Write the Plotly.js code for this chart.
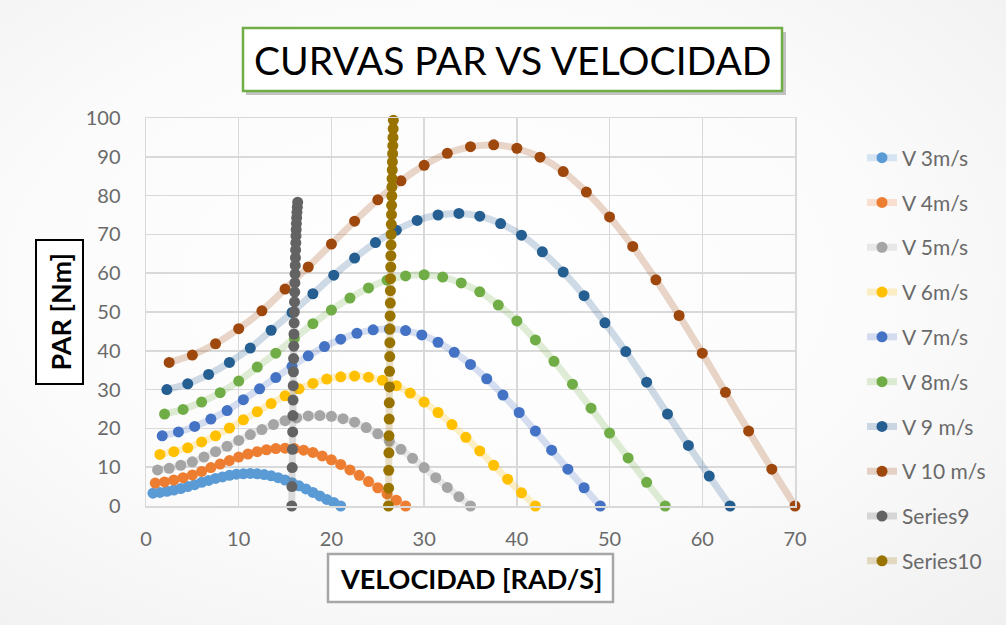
<!DOCTYPE html>
<html>
<head>
<meta charset="utf-8">
<script src="https://cdn.plot.ly/plotly-3.0.1.min.js"></script>
<style>
html,body{margin:0;padding:0;}
body{width:1006px;height:625px;background:radial-gradient(ellipse at 45% 45%, #ffffff 0%, #fbfbfb 55%, #f0f0f0 100%);}
#chart{width:1006px;height:625px;}
</style>
</head>
<body>
<div id="chart"></div>
<script>
// Series names
const seriesNames = ["V 3m/s","V 4m/s","V 5m/s","V 6m/s","V 7m/s","V 8m/s","V 9 m/s","V 10 m/s","Series9","Series10"];

// Speed values (rad/s) for each wind speed curve
const xV3 = [0.75,1.5,2.25,3,3.75,4.5,5.25,6,6.75,7.5,8.25,9,9.75,10.5,11.25,12,12.75,13.5,14.25,15,15.75,16.5,17.25,18,18.75,19.5,20.25,21];
const xV4 = [1,2,3,4,5,6,7,8,9,10,11,12,13,14,15,16,17,18,19,20,21,22,23,24,25,26,27,28];
const xV5 = [1.25,2.5,3.75,5,6.25,7.5,8.75,10,11.25,12.5,13.75,15,16.25,17.5,18.75,20,21.25,22.5,23.75,25,26.25,27.5,28.75,30,31.25,32.5,33.75,35];
const xV6 = [1.5,3,4.5,6,7.5,9,10.5,12,13.5,15,16.5,18,19.5,21,22.5,24,25.5,27,28.5,30,31.5,33,34.5,36,37.5,39,40.5,42];
const xV7 = [1.75,3.5,5.25,7,8.75,10.5,12.25,14,15.75,17.5,19.25,21,22.75,24.5,26.25,28,29.75,31.5,33.25,35,36.75,38.5,40.25,42,43.75,45.5,47.25,49];
const xV8 = [2,4,6,8,10,12,14,16,18,20,22,24,26,28,30,32,34,36,38,40,42,44,46,48,50,52,54,56];
const xV9 = [2.25,4.5,6.75,9,11.25,13.5,15.75,18,20.25,22.5,24.75,27,29.25,31.5,33.75,36,38.25,40.5,42.75,45,47.25,49.5,51.75,54,56.25,58.5,60.75,63];
const xV10 = [2.5,5,7.5,10,12.5,15,17.5,20,22.5,25,27.5,30,32.5,35,37.5,40,42.5,45,47.5,50,52.5,55,57.5,60,62.5,65,67.5,70];
const xS9 = [15.72,15.74,15.77,15.79,15.82,15.84,15.86,15.88,15.90,15.92,15.94,15.96,15.98,16.00,16.02,16.04,16.06,16.08,16.10,16.12,16.14,16.16,16.18,16.20,16.22,16.25,16.28,16.32,16.36];
const xS10 = [26.15,26.17,26.18,26.20,26.21,26.23,26.24,26.26,26.27,26.29,26.30,26.32,26.33,26.35,26.36,26.38,26.40,26.41,26.43,26.44,26.46,26.48,26.49,26.51,26.52,26.54,26.56,26.58,26.60,26.62,26.64,26.66,26.68];

// Torque values (Nm)
const yV3 = [3.3,3.5,3.8,4.1,4.5,5.0,5.5,6.1,6.6,7.1,7.5,7.9,8.2,8.3,8.4,8.3,8.1,7.8,7.3,6.7,6.0,5.2,4.4,3.5,2.6,1.7,0.9,0];
const yV4 = [5.9,6.2,6.7,7.3,8.0,8.9,9.9,10.8,11.7,12.6,13.4,14.0,14.5,14.8,14.9,14.8,14.4,13.8,12.9,11.9,10.7,9.3,7.9,6.3,4.7,3.1,1.5,0];
const yV5 = [9.3,9.7,10.5,11.4,12.6,14.0,15.4,16.9,18.4,19.7,21.0,22.0,22.7,23.2,23.3,23.1,22.5,21.6,20.2,18.6,16.7,14.6,12.3,9.9,7.3,4.8,2.4,0];
const yV6 = [13.3,14.0,15.0,16.5,18.1,20.1,22.2,24.3,26.4,28.4,30.2,31.6,32.7,33.3,33.5,33.2,32.4,31.0,29.1,26.8,24.1,21.0,17.7,14.2,10.5,6.9,3.4,0];
const yV7 = [18.1,19.1,20.5,22.4,24.6,27.4,30.2,33.1,36.0,38.7,41.1,43.0,44.5,45.4,45.6,45.2,44.1,42.2,39.6,36.5,32.8,28.6,24.1,19.3,14.4,9.5,4.7,0];
const yV8 = [23.7,24.9,26.8,29.2,32.2,35.8,39.4,43.2,47.0,50.5,53.6,56.2,58.2,59.3,59.6,59.0,57.5,55.2,51.8,47.7,42.8,37.3,31.4,25.2,18.8,12.4,6.1,0];
const yV9 = [30.0,31.5,33.9,37.0,40.7,45.3,49.9,54.7,59.5,63.9,67.9,71.1,73.6,75.0,75.4,74.7,72.8,69.8,65.5,60.3,54.2,47.2,39.8,31.9,23.7,15.6,7.7,0];
const yV10 = [37.0,38.9,41.8,45.7,50.3,55.9,61.6,67.5,73.4,78.9,83.8,87.8,90.9,92.6,93.1,92.2,89.9,86.2,80.9,74.5,66.9,58.3,49.1,39.4,29.3,19.3,9.5,0];
const yS9 = [0,5.0,9.9,14.6,19.1,23.3,27.3,31.0,34.6,38.0,41.2,44.3,47.2,50.0,52.6,55.1,57.5,59.8,62.0,64.0,66.0,67.8,69.6,71.2,72.8,74.3,75.7,77.0,78.3];
const yS10 = [0,4.6,9.2,13.7,18.1,22.4,26.6,30.7,34.7,38.5,42.1,45.6,49.0,52.3,55.5,58.6,61.6,64.5,67.3,70.0,72.6,75.1,77.5,79.9,82.2,84.4,86.6,88.7,90.8,92.9,95.0,97.2,99.4];

const xTickVals = [0,10,20,30,40,50,60,70];
const yTickVals = [0,10,20,30,40,50,60,70,80,90,100];

const colors = ["#5B9BD5","#ED7D31","#A5A5A5","#FFC000","#4472C4","#70AD47","#255E91","#9E480E","#636363","#997300"];
const xs = [xV3,xV4,xV5,xV6,xV7,xV8,xV9,xV10,xS9,xS10];
const ys = [yV3,yV4,yV5,yV6,yV7,yV8,yV9,yV10,yS9,yS10];

function rgba(hex,a){
  const r=parseInt(hex.slice(1,3),16),g=parseInt(hex.slice(3,5),16),b=parseInt(hex.slice(5,7),16);
  return `rgba(${r},${g},${b},${a})`;
}

const traces = seriesNames.map((n,i)=>({
  type:'scatter', mode:'lines+markers', name:n,
  x:xs[i], y:ys[i], legendgroup:'g'+i,
  line:{color:rgba(colors[i],0.22), width:7, shape:'spline', smoothing:0.6},
  marker:{color:colors[i], size:11},
  cliponaxis:false
}));

const L=146, R=795, T=118, B=506;
const px=(v)=>(v-L)/(R-L);
const py=(v)=>(B-v)/(B-T);

const layout = {
  width:1006, height:625,
  margin:{l:L, r:1006-R, t:T, b:625-B},
  paper_bgcolor:'rgba(0,0,0,0)',
  plot_bgcolor:'rgba(0,0,0,0)',
  font:{family:'Lato, "Open Sans", sans-serif', color:'#666666'},
  showlegend:true,
  legend:{x:px(862), y:py(137.5), xanchor:'left', yanchor:'top', font:{size:21, color:'#6a6a6a'}, tracegroupgap:14.5,
          bgcolor:'rgba(0,0,0,0)', maxheight:620},
  xaxis:{range:[0,70], tickvals:xTickVals, showgrid:true, gridcolor:'#d9d9d9', gridwidth:1.5, zeroline:false,
         showline:true, linecolor:'#d9d9d9', linewidth:1.5, mirror:true,
         ticks:'outside', ticklen:14, tickcolor:'rgba(0,0,0,0)', tickfont:{size:20, color:'#6a6a6a'}},
  yaxis:{range:[0,100], tickvals:yTickVals, showgrid:true, gridcolor:'#d9d9d9', gridwidth:1.5, zeroline:false,
         showline:true, linecolor:'#d9d9d9', linewidth:1.5, mirror:true,
         ticks:'outside', ticklen:20, tickcolor:'rgba(0,0,0,0)', tickfont:{size:20, color:'#6a6a6a'}},
  shapes:[
    {type:'rect', xref:'paper', yref:'paper', x0:px(246), x1:px(786), y0:py(95), y1:py(32), fillcolor:'rgba(90,90,90,0.35)', line:{width:0}, layer:'above'},
    {type:'rect', xref:'paper', yref:'paper', x0:px(243), x1:px(782), y0:py(91), y1:py(28), fillcolor:'#ffffff', line:{color:'#70AD47', width:2.5}, layer:'above'},
    {type:'rect', xref:'paper', yref:'paper', x0:px(36), x1:px(83), y0:py(384), y1:py(240), fillcolor:'#ffffff', line:{color:'#000000', width:2}, layer:'above'},
    {type:'rect', xref:'paper', yref:'paper', x0:px(328), x1:px(613), y0:py(602), y1:py(554), fillcolor:'#ffffff', line:{color:'#a6a6a6', width:2.5}, layer:'above'}
  ],
  annotations:[
    {xref:'paper', yref:'paper', x:px(512.5), y:py(60), text:'CURVAS PAR VS VELOCIDAD', showarrow:false, xanchor:'center', yanchor:'middle',
     font:{size:39, color:'#000000', family:'Lato, "Open Sans", sans-serif'}},
    {xref:'paper', yref:'paper', x:px(59.5), y:py(312), text:'<b>PAR [Nm]</b>', showarrow:false, textangle:-90, xanchor:'center', yanchor:'middle',
     font:{size:27, color:'#000000', family:'Lato, "Open Sans", sans-serif'}},
    {xref:'paper', yref:'paper', x:px(470.5), y:py(578), text:'<b>VELOCIDAD [RAD/S]</b>', showarrow:false, xanchor:'center', yanchor:'middle',
     font:{size:27, color:'#000000', family:'Lato, "Open Sans", sans-serif'}}
  ]
};

Plotly.newPlot('chart', traces, layout, {displayModeBar:false, staticPlot:true});
</script>
</body>
</html>
